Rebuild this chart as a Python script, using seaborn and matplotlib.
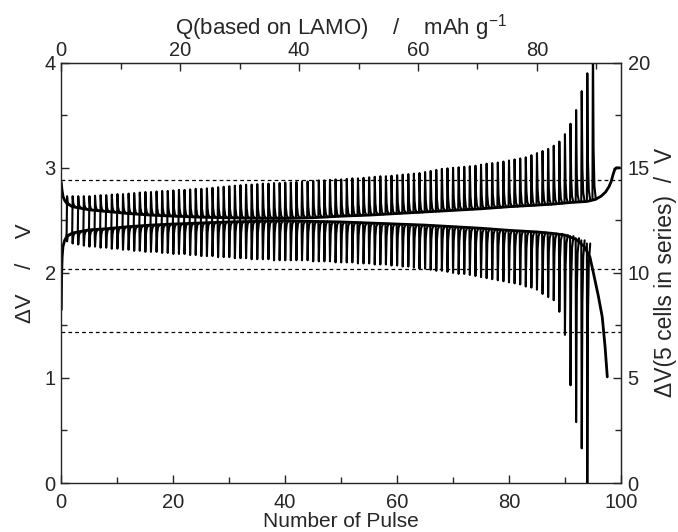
import numpy as np
import pandas as pd
import matplotlib
matplotlib.use("Agg")
import matplotlib.pyplot as plt
import seaborn as sns

# ---- data ----
# peak voltage of each charge pulse (pulse 1..95) and its relaxed base voltage
charge_peak = [
    2.73, 2.73, 2.73, 2.73, 2.73, 2.735, 2.74, 2.74, 2.745, 2.75,
    2.75, 2.755, 2.76, 2.765, 2.77, 2.77, 2.775, 2.78, 2.78, 2.785,
    2.79, 2.79, 2.795, 2.80, 2.80, 2.805, 2.81, 2.815, 2.82, 2.825,
    2.83, 2.835, 2.84, 2.84, 2.845, 2.85, 2.85, 2.855, 2.855, 2.86,
    2.86, 2.865, 2.87, 2.87, 2.875, 2.88, 2.88, 2.885, 2.89, 2.89,
    2.895, 2.90, 2.90, 2.905, 2.91, 2.915, 2.92, 2.92, 2.925, 2.93,
    2.935, 2.94, 2.945, 2.95, 2.96, 2.97, 2.98, 2.99, 2.995, 3.00,
    3.005, 3.01, 3.015, 3.02, 3.03, 3.04, 3.045, 3.05, 3.06, 3.07,
    3.08, 3.09, 3.10, 3.12, 3.14, 3.16, 3.18, 3.21, 3.25, 3.32,
    3.42, 3.55, 3.73, 3.90, 4.30,
]
charge_base = [
    2.65, 2.63, 2.62, 2.61, 2.60, 2.595, 2.59, 2.585, 2.58, 2.575,
    2.57, 2.565, 2.56, 2.56, 2.555, 2.55, 2.55, 2.545, 2.545, 2.54,
    2.54, 2.535, 2.535, 2.53, 2.53, 2.53, 2.53, 2.525, 2.525, 2.525,
    2.52, 2.52, 2.52, 2.52, 2.52, 2.52, 2.52, 2.52, 2.52, 2.52,
    2.52, 2.525, 2.525, 2.525, 2.53, 2.53, 2.53, 2.535, 2.535, 2.54,
    2.54, 2.545, 2.545, 2.55, 2.55, 2.555, 2.555, 2.56, 2.56, 2.565,
    2.57, 2.57, 2.575, 2.575, 2.58, 2.585, 2.585, 2.59, 2.59, 2.595,
    2.60, 2.60, 2.605, 2.61, 2.61, 2.615, 2.62, 2.62, 2.625, 2.63,
    2.63, 2.635, 2.64, 2.64, 2.645, 2.65, 2.65, 2.655, 2.66, 2.665,
    2.67, 2.675, 2.68, 2.69, 2.70,
]
# lowest voltage of each discharge pulse (pulse 1..94) and its relaxed base voltage
discharge_trough = [
    2.30, 2.28, 2.27, 2.26, 2.25, 2.25, 2.24, 2.24, 2.23, 2.23,
    2.22, 2.22, 2.21, 2.21, 2.20, 2.20, 2.20, 2.19, 2.19, 2.18,
    2.18, 2.18, 2.17, 2.17, 2.16, 2.16, 2.16, 2.15, 2.15, 2.15,
    2.14, 2.14, 2.14, 2.13, 2.13, 2.13, 2.13, 2.12, 2.12, 2.12,
    2.12, 2.12, 2.12, 2.12, 2.11, 2.11, 2.11, 2.11, 2.10, 2.10,
    2.10, 2.10, 2.09, 2.09, 2.09, 2.08, 2.08, 2.08, 2.07, 2.07,
    2.06, 2.06, 2.05, 2.04, 2.04, 2.03, 2.02, 2.02, 2.01, 2.00,
    1.99, 1.99, 1.98, 1.97, 1.96, 1.95, 1.94, 1.93, 1.92, 1.91,
    1.90, 1.89, 1.87, 1.86, 1.84, 1.80, 1.77, 1.74, 1.63, 1.41,
    0.93, 0.58, 0.33, 0.00,
]
discharge_base = [
    2.36, 2.38, 2.39, 2.40, 2.405, 2.41, 2.415, 2.42, 2.425, 2.43,
    2.435, 2.44, 2.44, 2.445, 2.45, 2.45, 2.455, 2.455, 2.46, 2.465,
    2.465, 2.47, 2.47, 2.475, 2.475, 2.48, 2.48, 2.48, 2.485, 2.485,
    2.49, 2.49, 2.49, 2.49, 2.495, 2.495, 2.495, 2.495, 2.495, 2.495,
    2.495, 2.495, 2.49, 2.49, 2.49, 2.49, 2.49, 2.485, 2.485, 2.485,
    2.48, 2.48, 2.48, 2.475, 2.475, 2.47, 2.47, 2.47, 2.465, 2.465,
    2.46, 2.46, 2.455, 2.455, 2.45, 2.45, 2.445, 2.445, 2.44, 2.44,
    2.435, 2.43, 2.43, 2.425, 2.42, 2.42, 2.415, 2.41, 2.41, 2.405,
    2.40, 2.40, 2.395, 2.39, 2.39, 2.385, 2.38, 2.375, 2.37, 2.36,
    2.35, 2.33, 2.31, 2.28,
]
# in the first pulses the bars run through the gap between the two curves
n_bridged = 40

# continuous charge / discharge curves (thick lines)
charge_curve_x = [0, 0.1, 0.3, 0.6, 1, 2, 3, 5, 8, 12, 16, 20, 25, 30, 35, 40,
                  45, 50, 55, 60, 65, 70, 75, 80, 85, 88, 91, 94, 95.5, 96.5,
                  97.3, 97.9, 98.3, 98.6, 98.9, 99.2, 99.8]
charge_curve_y = [2.86, 2.80, 2.73, 2.69, 2.66, 2.63, 2.62, 2.60, 2.585, 2.565,
                  2.55, 2.54, 2.53, 2.525, 2.52, 2.52, 2.525, 2.54, 2.55, 2.565,
                  2.58, 2.595, 2.61, 2.63, 2.645, 2.655, 2.67, 2.68, 2.70, 2.73,
                  2.77, 2.82, 2.87, 2.93, 2.98, 3.0, 3.0]
discharge_curve_x = [0, 0.05, 0.15, 0.3, 0.6, 1, 2, 3, 5, 8, 12, 16, 20, 25, 30,
                     35, 40, 45, 50, 55, 60, 65, 70, 75, 80, 85, 88, 90, 92,
                     93.5, 94.5, 95.2, 96.0, 96.7, 97.2, 97.6]
discharge_curve_y = [1.65, 1.95, 2.15, 2.25, 2.31, 2.35, 2.38, 2.39, 2.41, 2.42,
                     2.44, 2.455, 2.465, 2.475, 2.485, 2.49, 2.495, 2.49, 2.485,
                     2.475, 2.465, 2.455, 2.44, 2.425, 2.405, 2.39, 2.375, 2.36,
                     2.32, 2.25, 2.15, 1.98, 1.78, 1.58, 1.30, 1.01]

# voltage limits (dashed lines), single cell
limit_levels = [2.88, 2.04, 1.44]

q_per_pulse = 0.941  # mAh/g per pulse (top axis)
n_cells = 5
FS = 14.5    # tick labels
LFS = 16     # axis titles


def needles(start, tip, end):
    # one needle per pulse: jump to the tip, then relax onto the end level
    rows = []
    for i, (s, t, e) in enumerate(zip(start, tip, end)):
        n = i + 1
        for dx, v in [(-0.05, s), (0.03, t), (0.15, e + 0.3 * (t - e)),
                      (0.3, e + 0.08 * (t - e)), (0.55, e)]:
            rows.append((i, n + dx, v))
    return pd.DataFrame(rows, columns=["pulse_id", "pulse", "V"])


charge_start = discharge_base[:n_bridged] + charge_base[n_bridged:]
charge_df = needles(charge_start, charge_peak, charge_base)
discharge_df = needles(discharge_base, discharge_trough, discharge_base)
ccurve_df = pd.DataFrame({"pulse": charge_curve_x, "V": charge_curve_y})
dcurve_df = pd.DataFrame({"pulse": discharge_curve_x, "V": discharge_curve_y})

sns.set_style("ticks")
plt.rcParams["font.family"] = ["Liberation Sans", "DejaVu Sans"]
plt.rcParams["mathtext.fontset"] = "custom"
plt.rcParams["mathtext.rm"] = "Liberation Sans"
plt.rcParams["mathtext.it"] = "Liberation Sans"

fig = plt.figure(figsize=(6.78, 5.32), dpi=100)
ax = fig.add_axes([0.0904, 0.0921, 0.8251, 0.7899])

kw = dict(sort=False, estimator=None, color="black", legend=False, ax=ax)
sns.lineplot(data=charge_df, x="pulse", y="V", units="pulse_id", lw=1.5, **kw)
sns.lineplot(data=discharge_df, x="pulse", y="V", units="pulse_id", lw=1.5, **kw)
sns.lineplot(data=ccurve_df, x="pulse", y="V", lw=2.0, **kw)
sns.lineplot(data=dcurve_df, x="pulse", y="V", lw=2.0, **kw)

for lv in limit_levels:
    ax.axhline(lv, color="black", lw=0.9, ls=(0, (3, 2.5)))

ax.set_xlim(0, 100)
ax.set_ylim(0, 4)
ax.set_xticks(np.arange(0, 101, 20))
ax.set_xticks(np.arange(10, 100, 20), minor=True)
ax.set_yticks(np.arange(0, 5, 1))
ax.set_yticks(np.arange(0.5, 4, 1), minor=True)
ax.tick_params(which="both", direction="in", labelsize=FS, width=1.0)
ax.tick_params(axis="x", pad=7)
ax.tick_params(axis="y", pad=4)
ax.tick_params(which="major", length=6)
ax.tick_params(which="minor", length=4)
ax.set_xlabel("Number of Pulse", fontsize=15, labelpad=0)
ax.set_ylabel("\u0394V    /    V", fontsize=LFS, labelpad=6)
for s in ax.spines.values():
    s.set_linewidth(1.0)

# top axis: capacity
top = ax.secondary_xaxis("top", functions=(lambda n: n * q_per_pulse,
                                           lambda q: q / q_per_pulse))
top.set_xticks(np.arange(0, 81, 20))
top.set_xticks(np.arange(10, 100, 20), minor=True)
top.tick_params(which="both", direction="in", labelsize=FS, width=1.0, pad=2)
top.tick_params(which="major", length=6)
top.tick_params(which="minor", length=4)
top.set_xlabel("Q(based on LAMO)    /    mAh g$^{\\mathregular{-1}}$",
               fontsize=LFS, labelpad=5)

# right axis: 5 cells in series
right = ax.secondary_yaxis("right", functions=(lambda v: v * n_cells,
                                               lambda v: v / n_cells))
right.set_yticks(np.arange(0, 21, 5))
right.set_yticks(np.arange(2.5, 20, 5), minor=True)
right.tick_params(which="both", direction="in", labelsize=FS, width=1.0, pad=5)
right.tick_params(which="major", length=6)
right.tick_params(which="minor", length=4)
right.set_ylabel("\u0394V(5 cells in series)  /  V", fontsize=16.5, labelpad=3)

ax.tick_params(top=False, right=False)

fig.savefig("out.png", dpi=100)
